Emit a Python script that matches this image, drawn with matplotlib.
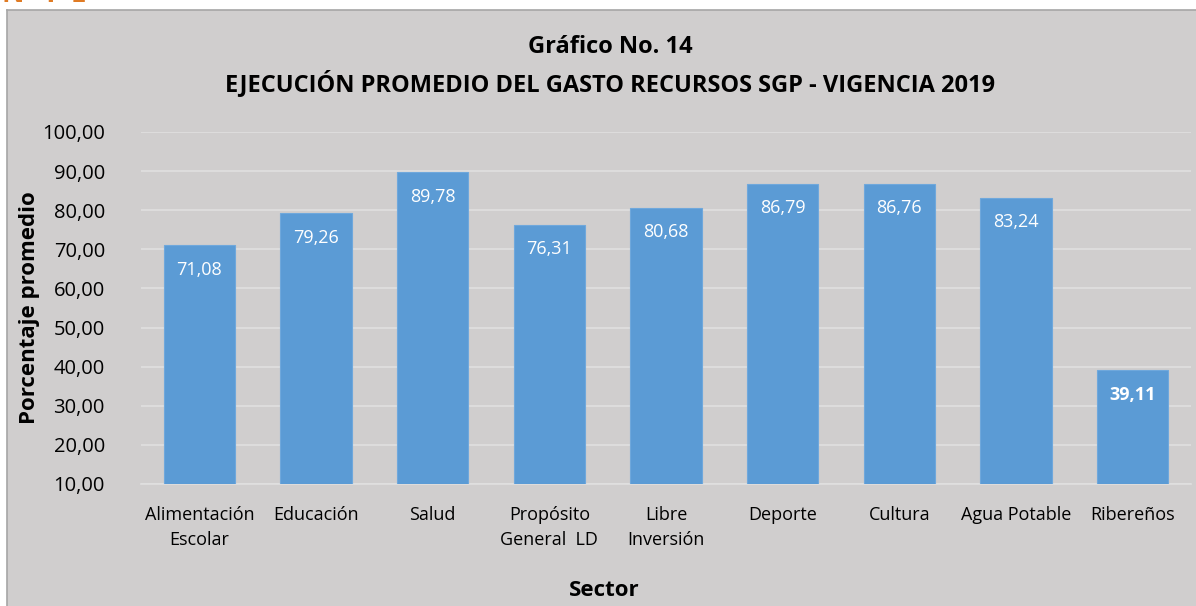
#!/usr/bin/env python3

import matplotlib as mpl
mpl.use("Agg")
import matplotlib.pyplot as plt
from matplotlib.ticker import FuncFormatter

# Data

sectores = ["Alimentación\nEscolar", "Educación", "Salud", "Propósito\nGeneral  LD",
            "Libre\nInversión", "Deporte", "Cultura", "Agua Potable", "Ribereños"]
promedio = [71.08, 79.26, 89.78, 76.31, 80.68, 86.79, 86.76, 83.24, 39.11]
yticks = [10, 20, 30, 40, 50, 60, 70, 80, 90, 100]

# Formatting

mpl.rcParams['font.family'] = ['Open Sans', 'DejaVu Sans']

W, H = 1196, 606
fig = plt.figure(figsize=(W/100, H/100), dpi=100)
fig.patch.set_facecolor('white')

bg = '#d0cece'

# gray chart panel
pan = fig.add_axes([7/W, -0.01, 1.0, (H-10)/H + 0.01], zorder=0)
pan.set_facecolor(bg)
pan.set_xticks([])
pan.set_yticks([])
for s in pan.spines.values():
    s.set_color('#a6a6a6')
    s.set_linewidth(1.2)

# clipped logo fragment above the panel
fig.text(2/W, 1 + 6/H, "N   P E", color='#e07b24', fontsize=20, fontweight='bold',
         va='center', ha='left', zorder=-1)

ax = fig.add_axes([141/W, 1 - 484/H, (1191-141)/W, (484-132)/H], zorder=1)
ax.patch.set_alpha(0)

x = range(len(sectores))
bars = ax.bar(x, promedio, width=0.61, bottom=0, color='#5b9bd5',
              edgecolor='#6fa8dc', lw=0.8, zorder=3)

for i, v in enumerate(promedio):
    txt = ("%.2f" % v).replace('.', ',')
    bold = (i == len(promedio) - 1)
    ax.text(i, v - 6.3, txt, ha='center', va='center', color='white',
            fontsize=13, fontweight='bold' if bold else 'normal', zorder=4)

ax.set_ylim(10, 100)
ax.set_xlim(-0.5, len(sectores) - 0.5)
ax.set_yticks(yticks)
ax.yaxis.set_major_formatter(FuncFormatter(lambda v, p: ("%.2f" % v).replace('.', ',')))
ax.grid(axis='y', color='#e0e0e0', lw=1.2, zorder=1)
ax.set_axisbelow(True)

for s in ['top', 'right', 'left']:
    ax.spines[s].set_visible(False)
ax.spines['bottom'].set_color('#e0e0e0')
ax.spines['bottom'].set_linewidth(1.2)

ax.set_xticks(list(x))
ax.set_xticklabels(sectores, fontsize=13, linespacing=1.45)
ax.tick_params(axis='x', length=0, pad=16)
ax.tick_params(axis='y', length=0, labelsize=14.5, pad=26)

fig.text(30/W, 1 - 308/H, "Porcentaje promedio", rotation=90, fontsize=16,
         fontweight='bold', ha='center', va='center')
fig.text(604/W, 1 - 590/H, "Sector", fontsize=16, fontweight='bold',
         ha='center', va='center')

fig.text(610/W, 1 - 47/H, "Gráfico No. 14", fontsize=17, fontweight='bold',
         ha='center', va='center')
fig.text(610/W, 1 - 84/H, "EJECUCIÓN PROMEDIO DEL GASTO RECURSOS SGP - VIGENCIA 2019",
         fontsize=17, fontweight='bold', ha='center', va='center')

fig.savefig("out.png", dpi=100, facecolor=fig.get_facecolor())
